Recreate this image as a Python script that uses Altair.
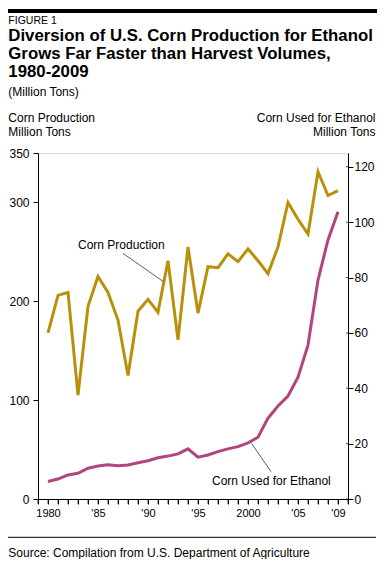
import altair as alt
import pandas as pd

years = list(range(1980, 2010))
corn_production = [168, 206, 209, 105, 195, 225, 209, 181, 125, 190, 202, 189,
                   241, 161, 255, 188, 235, 234, 248, 240, 253, 241, 228, 255,
                   300, 283, 268, 331, 307, 312]
corn_ethanol = [6.3, 7.2, 8.7, 9.3, 11.1, 11.9, 12.4, 12.0, 12.3, 13.1, 13.8, 14.9,
                15.5, 16.3, 18.1, 15.1, 15.9, 17.1, 18.1, 18.9, 20.3, 22.3, 29.2, 33.6,
                37.2, 44.0, 55.6, 79.1, 93.6, 103.8]
x_tick_labels = {1980: "1980", 1985: "'85", 1990: "'90", 1995: "'95",
                 2000: "2000", 2005: "'05", 2009: "'09"}
x_tick_years = list(range(1979, 2011))
left_ticks = [0, 100, 200, 300, 350]
right_ticks = [0, 20, 40, 60, 80, 100, 120]

df = pd.DataFrame({"year": years, "corn": corn_production, "ethanol": corn_ethanol})

GOLD = "#B8900C"
MAGENTA = "#B0457F"
FONT = "Liberation Sans"

W, H = 310, 346

label_expr = " : ".join(f'datum.value == {k} ? "{v}"' for k, v in x_tick_labels.items()) + ' : ""'

xscale = alt.Scale(domain=[1979, 2010], nice=False, zero=False)
xaxis = alt.Axis(values=x_tick_years, labelExpr=label_expr, title=None,
                 grid=False, ticks=True, tickSize=5, tickWidth=1, labelFontSize=11,
                 labelPadding=3, domainColor="black", tickColor="black",
                 labelColor="black", labelFont=FONT, labelOverlap=False,
                 labelFlush=False)


def xenc(field="year"):
    return alt.X(f"{field}:Q", scale=xscale, axis=xaxis)


yaxis_left = alt.Axis(values=left_ticks, title=None, grid=False, tickSize=5,
                      labelFontSize=12, labelPadding=4, domainColor="black",
                      tickColor="black", labelColor="black", labelFont=FONT,
                      orient="left")
yaxis_right = alt.Axis(values=right_ticks, title=None, grid=False, tickSize=5,
                       labelFontSize=12, labelPadding=1, domainColor="black",
                       tickColor="black", labelColor="black", labelFont=FONT,
                       orient="right")
yscale_left = alt.Scale(domain=[0, 350], nice=False)
yscale_right = alt.Scale(domain=[0, 125], nice=False)

corn_line = alt.Chart(df).mark_line(color=GOLD, strokeWidth=3).encode(
    x=xenc(), y=alt.Y("corn:Q", scale=yscale_left, axis=yaxis_left))

corn_ann = pd.DataFrame({"year": [1983.0], "corn": [257], "label": ["Corn Production"]})
corn_text = alt.Chart(corn_ann).mark_text(align="left", baseline="middle", fontSize=12,
                                           font=FONT, color="black").encode(
    x=xenc(), y=alt.Y("corn:Q", scale=yscale_left, axis=yaxis_left), text="label:N")
corn_lead = pd.DataFrame({"year": [1987.5], "corn": [248.5], "year2": [1991.55], "corn2": [219.8]})
corn_rule = alt.Chart(corn_lead).mark_rule(color="#333333", strokeWidth=0.8).encode(
    x=xenc(), y=alt.Y("corn:Q", scale=yscale_left, axis=yaxis_left),
    x2="year2:Q", y2="corn2:Q")

eth_line = alt.Chart(df).mark_line(color=MAGENTA, strokeWidth=3).encode(
    x=xenc(), y=alt.Y("ethanol:Q", scale=yscale_right, axis=yaxis_right))
eth_ann = pd.DataFrame({"year": [1996.4], "ethanol": [6.6], "label": ["Corn Used for Ethanol"]})
eth_text = alt.Chart(eth_ann).mark_text(align="left", baseline="middle", fontSize=12,
                                         font=FONT, color="black").encode(
    x=xenc(), y=alt.Y("ethanol:Q", scale=yscale_right, axis=yaxis_right), text="label:N")
eth_lead = pd.DataFrame({"year": [2002.3], "ethanol": [9.9], "year2": [2000.35], "ethanol2": [20.1]})
eth_rule = alt.Chart(eth_lead).mark_rule(color="#333333", strokeWidth=0.8).encode(
    x=xenc(), y=alt.Y("ethanol:Q", scale=yscale_right, axis=yaxis_right),
    x2="year2:Q", y2="ethanol2:Q")

one = alt.Data(values=[{"a": 1}])


def txt(s, px, py, size=12, bold=False, align="left"):
    return alt.Chart(one).mark_text(text=s, align=align, baseline="middle", fontSize=size,
                                    fontWeight="bold" if bold else "normal", font=FONT,
                                    color="black").encode(x=alt.value(px), y=alt.value(py))


L = -29.7
R = 337.5
texts = [
    txt("FIGURE 1", L, -132.5, size=10.5),
    txt("Diversion of U.S. Corn Production for Ethanol", L, -117, size=16.8, bold=True),
    txt("Grows Far Faster than Harvest Volumes,", L, -99.5, size=16.8, bold=True),
    txt("1980-2009", L, -81, size=16.8, bold=True),
    txt("(Million Tons)", L, -61.5, size=12),
    txt("Corn Production", L, -35, size=12),
    txt("Million Tons", L, -21.5, size=12),
    txt("Corn Used for Ethanol", R, -35, size=12, align="right"),
    txt("Million Tons", R, -21.5, size=12, align="right"),
    txt("Source: Compilation from U.S. Department of Agriculture", L, 399.7, size=12),
]

# top bar of the figure frame
top_bar = alt.Chart(one).mark_rule(color="black", strokeWidth=4).encode(
    x=alt.value(-30), x2=alt.value(339), y=alt.value(-142))
src_rule = alt.Chart(one).mark_rule(color="black", strokeWidth=1).encode(
    x=alt.value(-30), x2=alt.value(338), y=alt.value(384.3))

# year ticks along the bottom axis (through the x scale)
xt = pd.DataFrame({"year": x_tick_years})
x_ticks = alt.Chart(xt).mark_tick(color="black", thickness=1, size=5,
                                   orient="vertical").encode(
    x=xenc(), y=alt.value(H + 2.5))

# right axis ticks also poke slightly inside the plot
right_inner = pd.DataFrame({"v": right_ticks})
right_tick_in = alt.Chart(right_inner).mark_tick(color="black", thickness=1, size=2,
                                                  orient="horizontal").encode(
    x=alt.value(W - 1), y=alt.Y("v:Q", scale=yscale_right, axis=yaxis_right))

corn_group = alt.layer(corn_line, corn_rule, corn_text, src_rule, top_bar, x_ticks, *texts)
eth_group = alt.layer(eth_line, eth_rule, eth_text, right_tick_in)

chart = alt.layer(corn_group, eth_group).resolve_scale(y="independent").properties(
    width=W, height=H,
    autosize=alt.AutoSizeParams(type="none"),
    padding={"left": 30, "top": 145, "right": 30, "bottom": 60},
).configure_view(stroke=None).configure(font=FONT)

chart.save("out.html", embed_options={"renderer": "svg", "actions": False})
